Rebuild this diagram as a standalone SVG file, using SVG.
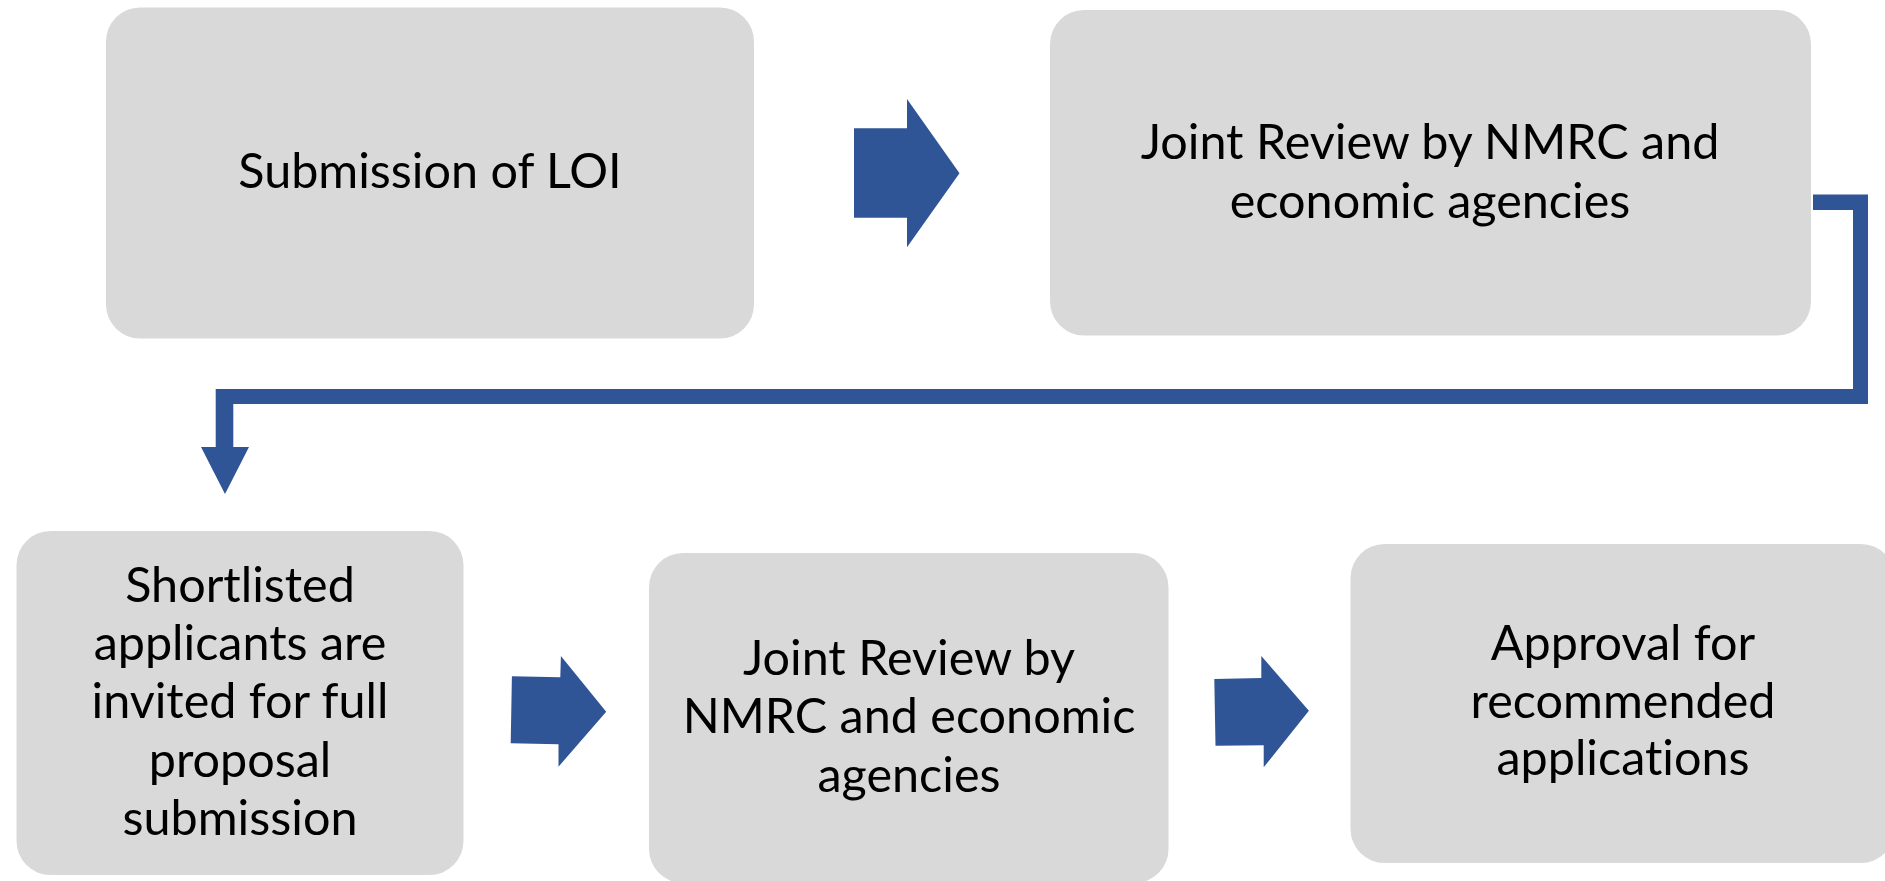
<svg xmlns="http://www.w3.org/2000/svg" width="1885" height="881" viewBox="0 0 1885 881">
  <style>
    .box { fill: #D9D9D9; }
    .arrow { fill: #2F5597; }
    .label { font-family: Lato, "Open Sans", "Liberation Sans", sans-serif; font-size: 48.5px; fill: #000000; text-anchor: middle; font-variant-ligatures: none; }
  </style>
  <rect width="1885" height="881" fill="#FFFFFF"/>
  <g id="connectors">
    <polygon class="arrow" points="854,128.3 907,128.3 907,99 959.5,173.3 907,247.3 907,217.7 854,217.7"/>
    <polygon class="arrow" points="1813,194.5 1868,194.5 1868,404 233.3,404 233.3,447 249,447 225,494 201,447 215.7,447 215.7,389 1853,389 1853,210 1813,210"/>
    <polygon class="arrow" points="511.9,676.3 560.3,677.3 560.9,656 606.2,711.7 558.5,766.7 558.5,744.3 510.7,743.3"/>
    <polygon class="arrow" points="1214.3,679 1261.3,678 1261.3,656 1308.9,710.7 1263.7,767.3 1263.7,745.3 1215.5,745.7"/>
  </g>
  <g id="node-submission">
    <rect class="box" x="106" y="7.5" width="648" height="331" rx="34" ry="34"/>
    <text class="label" x="430" y="187.7">Submission of LOI</text>
  </g>
  <g id="node-joint-review-1">
    <rect class="box" x="1050" y="10" width="761" height="325.5" rx="34" ry="34"/>
    <text class="label" x="1430" y="158.5">Joint Review by NMRC and</text>
    <text class="label" x="1430" y="217.5">economic agencies</text>
  </g>
  <g id="node-shortlisted">
    <rect class="box" x="16.5" y="531" width="447" height="344" rx="34" ry="34"/>
    <text class="label" x="240" y="601.7">Shortlisted</text>
    <text class="label" x="240" y="660">applicants are</text>
    <text class="label" x="240" y="718.3">invited for full</text>
    <text class="label" x="240" y="776.7">proposal</text>
    <text class="label" x="240" y="835">submission</text>
  </g>
  <g id="node-joint-review-2">
    <rect class="box" x="649" y="553" width="519.5" height="330" rx="34" ry="34"/>
    <text class="label" x="909" y="675">Joint Review by</text>
    <text class="label" x="909" y="733.3">NMRC and economic</text>
    <text class="label" x="909" y="791.7">agencies</text>
  </g>
  <g id="node-approval">
    <rect class="box" x="1350.5" y="544" width="544.5" height="319" rx="34" ry="34"/>
    <text class="label" x="1623" y="659.5">Approval for</text>
    <text class="label" x="1623" y="717.5">recommended</text>
    <text class="label" x="1623" y="775">applications</text>
  </g>
</svg>
